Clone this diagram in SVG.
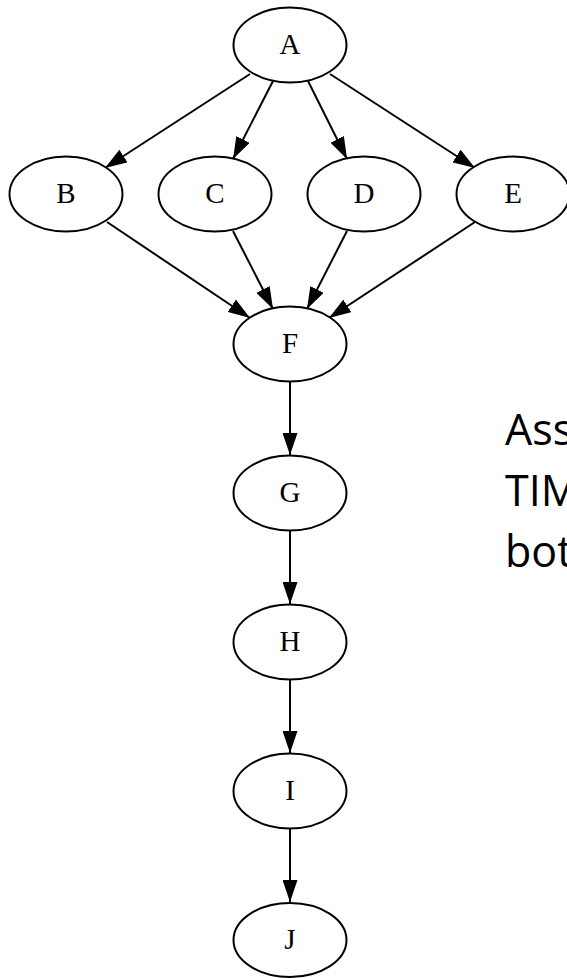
<svg xmlns="http://www.w3.org/2000/svg" width="567" height="978" viewBox="0 0 567 978">
  <defs>
    <marker id="arrow" markerUnits="userSpaceOnUse" markerWidth="22" markerHeight="15" refX="22" refY="7.5" orient="auto">
      <path d="M0,0 L22,7.5 L0,15 z" fill="#000"/>
    </marker>
    <style>
      .node ellipse { fill: #fff; stroke: #000; stroke-width: 2; }
      .node text { font-family: "Liberation Serif", "Times New Roman", serif; font-size: 29px; text-anchor: middle; fill: #000; }
      #edges line { stroke: #000; stroke-width: 2; marker-end: url(#arrow); }
      .note { font-family: "Open Sans", "Noto Sans", sans-serif; font-size: 43px; fill: #000; }
    </style>
  </defs>
  <rect width="567" height="978" fill="#fff"/>

  <!-- connectors -->
  <g id="edges">
    <line x1="250" y1="74" x2="105" y2="168"/>
    <line x1="273" y1="81" x2="233" y2="159"/>
    <line x1="308" y1="81" x2="347" y2="159"/>
    <line x1="330" y1="74" x2="475" y2="168"/>
    <line x1="107" y1="222" x2="250" y2="318"/>
    <line x1="233" y1="231" x2="273" y2="309"/>
    <line x1="347" y1="231" x2="307" y2="309"/>
    <line x1="475" y1="222" x2="329" y2="318"/>
    <line x1="290" y1="382" x2="290" y2="455"/>
    <line x1="290" y1="531" x2="290" y2="604"/>
    <line x1="290" y1="680" x2="290" y2="753"/>
    <line x1="290" y1="829" x2="290" y2="902"/>
  </g>

  <!-- nodes -->
  <g id="A" class="node"><ellipse cx="290" cy="45" rx="56.5" ry="37.5"/><text x="290" y="54">A</text></g>
  <g id="B" class="node"><ellipse cx="66" cy="194" rx="56.5" ry="37.5"/><text x="66" y="203">B</text></g>
  <g id="C" class="node"><ellipse cx="215" cy="194" rx="56.5" ry="37.5"/><text x="215" y="203">C</text></g>
  <g id="D" class="node"><ellipse cx="364" cy="194" rx="56.5" ry="37.5"/><text x="364" y="203">D</text></g>
  <g id="E" class="node"><ellipse cx="513" cy="194" rx="56.5" ry="37.5"/><text x="513" y="203">E</text></g>
  <g id="F" class="node"><ellipse cx="290" cy="344" rx="56.5" ry="37.5"/><text x="290" y="353">F</text></g>
  <g id="G" class="node"><ellipse cx="290" cy="493" rx="56.5" ry="37.5"/><text x="290" y="502">G</text></g>
  <g id="H" class="node"><ellipse cx="290" cy="642" rx="56.5" ry="37.5"/><text x="290" y="651">H</text></g>
  <g id="I" class="node"><ellipse cx="290" cy="791" rx="56.5" ry="37.5"/><text x="290" y="800">I</text></g>
  <g id="J" class="node"><ellipse cx="290" cy="940" rx="56.5" ry="37"/><text x="290" y="949">J</text></g>

  <!-- side note, running past the right edge -->
  <g id="note">
    <text class="note" x="505" y="445">Ass</text>
    <text class="note" x="505" y="506">TIM</text>
    <text class="note" x="505" y="567">bot</text>
  </g>
</svg>
